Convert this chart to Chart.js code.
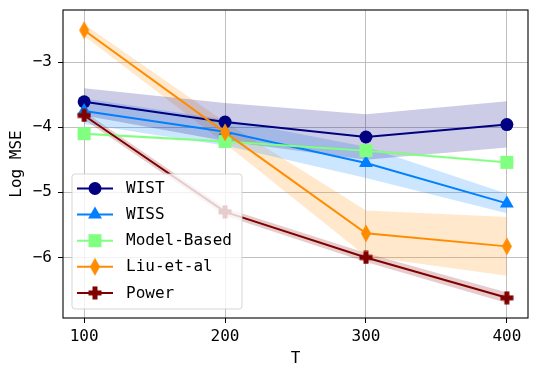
<!DOCTYPE html>
<html>
<head>
<meta charset="utf-8">
<script src="https://cdn.jsdelivr.net/npm/chart.js@4.4.1/dist/chart.umd.min.js"></script>
<style>
  html, body { margin: 0; padding: 0; background: #fff; }
</style>
</head>
<body>
<canvas id="canvas" width="538" height="379"></canvas>
<script>
  // data
  const T = [100, 200, 300, 400];
  const xTicks = [100, 200, 300, 400];
  const yTicks = [-3, -4, -5, -6];

  const wist   = [-3.61, -3.92, -4.15, -3.96];
  const wistHi = [-3.40, -3.63, -3.80, -3.60];
  const wistLo = [-3.82, -4.21, -4.50, -4.31];

  const wiss   = [-3.75, -4.07, -4.55, -5.17];
  const wissHi = [-3.56, -3.88, -4.30, -5.02];
  const wissLo = [-3.95, -4.28, -4.78, -5.32];

  const model   = [-4.10, -4.22, -4.36, -4.54];
  const modelHi = [-4.08, -4.20, -4.34, -4.52];
  const modelLo = [-4.12, -4.24, -4.38, -4.56];

  const liu   = [-2.51, -4.08, -5.63, -5.83];
  const liuHi = [-2.42, -3.92, -5.28, -5.38];
  const liuLo = [-2.60, -4.25, -5.98, -6.28];

  const power   = [-3.82, -5.30, -6.00, -6.62];
  const powerHi = [-3.76, -5.24, -5.93, -6.54];
  const powerLo = [-3.88, -5.36, -6.07, -6.70];

  const FONT = "'DejaVu Sans Mono', monospace";
  const FSIZE = 16;

  // custom marker images (thin diamond, filled plus)
  function thinDiamond(color){
    const c = document.createElement('canvas');
    c.width = 12; c.height = 19;
    const g = c.getContext('2d');
    g.fillStyle = color;
    g.beginPath();
    g.moveTo(6, 0.5); g.lineTo(11, 9.5); g.lineTo(6, 18.5); g.lineTo(1, 9.5);
    g.closePath(); g.fill();
    return c;
  }
  function filledPlus(color){
    const c = document.createElement('canvas');
    c.width = 14; c.height = 14;
    const g = c.getContext('2d');
    g.fillStyle = color;
    g.fillRect(4.5, 0.5, 5, 13);
    g.fillRect(0.5, 4.5, 13, 5);
    return c;
  }

  const series = [
    {label:'WIST', y:wist, hi:wistHi, lo:wistLo, color:'#000080', band:'rgba(0,0,128,0.2)', style:'circle', r:6.5},
    {label:'WISS', y:wiss, hi:wissHi, lo:wissLo, color:'#0080ff', band:'rgba(0,128,255,0.2)', style:'triangle', r:8},
    {label:'Model-Based', y:model, hi:modelHi, lo:modelLo, color:'#80ff80', band:'rgba(128,255,128,0.2)', style:'rect', r:9.2},
    {label:'Liu-et-al', y:liu, hi:liuHi, lo:liuLo, color:'#ff8c00', band:'rgba(255,140,0,0.2)', style:thinDiamond('#ff8c00'), r:8},
    {label:'Power', y:power, hi:powerHi, lo:powerLo, color:'#800000', band:'rgba(128,0,0,0.2)', style:filledPlus('#800000'), r:7}
  ];

  function pts(arr){ return arr.map(function(v, i){ return {x: T[i], y: v}; }); }

  const datasets = [];
  series.forEach(function(s, i){
    datasets.push({data: pts(s.hi), borderWidth: 0, pointRadius: 0, fill: false,
      borderColor: 'rgba(0,0,0,0)', backgroundColor: s.band, order: 100 + i});
    datasets.push({data: pts(s.lo), borderWidth: 0, pointRadius: 0, fill: '-1',
      borderColor: 'rgba(0,0,0,0)', backgroundColor: s.band, order: 100 + i});
  });
  series.forEach(function(s, i){
    datasets.push({label: s.label, data: pts(s.y), borderColor: s.color, backgroundColor: s.color,
      borderWidth: 2, tension: 0, fill: false, pointStyle: s.style, pointRadius: s.r,
      pointBorderWidth: 0, pointBackgroundColor: s.color, order: 10 - i});
  });

  // black box round the plot area
  const frame = {
    id: 'frame',
    afterDatasetsDraw(chart){
      const a = chart.chartArea, c = chart.ctx;
      c.save();
      c.strokeStyle = '#000'; c.lineWidth = 1.1;
      c.strokeRect(a.left, a.top, a.right - a.left, a.bottom - a.top);
      c.restore();
    }
  };

  // matplotlib style legend, drawn over the data
  const mplLegend = {
    id: 'mplLegend',
    afterDraw(chart){
      const c = chart.ctx;
      const x0 = 72, y0 = 174, w = 170, h = 135, r = 3;
      c.save();
      c.beginPath();
      c.moveTo(x0 + r, y0); c.lineTo(x0 + w - r, y0); c.arcTo(x0 + w, y0, x0 + w, y0 + r, r);
      c.lineTo(x0 + w, y0 + h - r); c.arcTo(x0 + w, y0 + h, x0 + w - r, y0 + h, r);
      c.lineTo(x0 + r, y0 + h); c.arcTo(x0, y0 + h, x0, y0 + h - r, r);
      c.lineTo(x0, y0 + r); c.arcTo(x0, y0, x0 + r, y0, r);
      c.closePath();
      c.fillStyle = 'rgba(255,255,255,0.8)'; c.fill();
      c.strokeStyle = 'rgba(204,204,204,0.8)'; c.lineWidth = 1; c.stroke();
      series.forEach(function(s, i){
        const y = 188.5 + i * 26.1;
        c.strokeStyle = s.color; c.lineWidth = 2;
        c.beginPath(); c.moveTo(77, y); c.lineTo(113, y); c.stroke();
        c.fillStyle = s.color;
        Chart.helpers.drawPoint(c, {pointStyle: s.style, radius: s.r, rotation: 0, borderWidth: 0}, 95, y);
        c.fillStyle = '#000';
        c.font = FSIZE + 'px ' + FONT;
        c.textBaseline = 'middle'; c.textAlign = 'left';
        c.fillText(s.label, 126, y + 0.5);
      });
      c.restore();
    }
  };

  const ctx = document.getElementById('canvas').getContext('2d');
  const chart = new Chart(ctx, {
    type: 'line',
    data: {datasets: datasets},
    plugins: [frame, mplLegend],
    options: {
      responsive: false,
      animation: false,
      events: [],
      layout: {padding: {top: 10, right: 10, left: 0, bottom: 0}},
      plugins: {legend: {display: false}, tooltip: {enabled: false}},
      scales: {
        x: {
          type: 'linear', min: 85, max: 415,
          afterBuildTicks: function(s){ s.ticks = xTicks.map(function(v){ return {value: v}; }); },
          afterFit: function(s){ s.height = 61; s.paddingLeft = 0; s.paddingRight = 0; },
          grid: {color: '#b0b0b0', lineWidth: 0.8, tickColor: '#000', tickLength: 5, tickWidth: 1},
          border: {display: false},
          ticks: {color: '#000', padding: 4, maxRotation: 0, font: {family: FONT, size: FSIZE}},
          title: {display: true, text: 'T', color: '#000', font: {family: FONT, size: FSIZE}, padding: {top: 0, bottom: 11}}
        },
        y: {
          type: 'linear', min: -6.93, max: -2.2,
          afterBuildTicks: function(s){ s.ticks = yTicks.map(function(v){ return {value: v}; }); },
          afterFit: function(s){ s.width = 63; s.paddingTop = 0; s.paddingBottom = 0; },
          grid: {color: '#b0b0b0', lineWidth: 0.8, tickColor: '#000', tickLength: 5, tickWidth: 1},
          border: {display: false},
          ticks: {color: '#000', padding: 6, font: {family: FONT, size: FSIZE},
            callback: function(v){ return String(v).replace('-', '\u2212'); }},
          title: {display: true, text: 'Log MSE', color: '#000', font: {family: FONT, size: FSIZE}, padding: {top: 7.5, bottom: 0}}
        }
      }
    }
  });
</script>
</body>
</html>
